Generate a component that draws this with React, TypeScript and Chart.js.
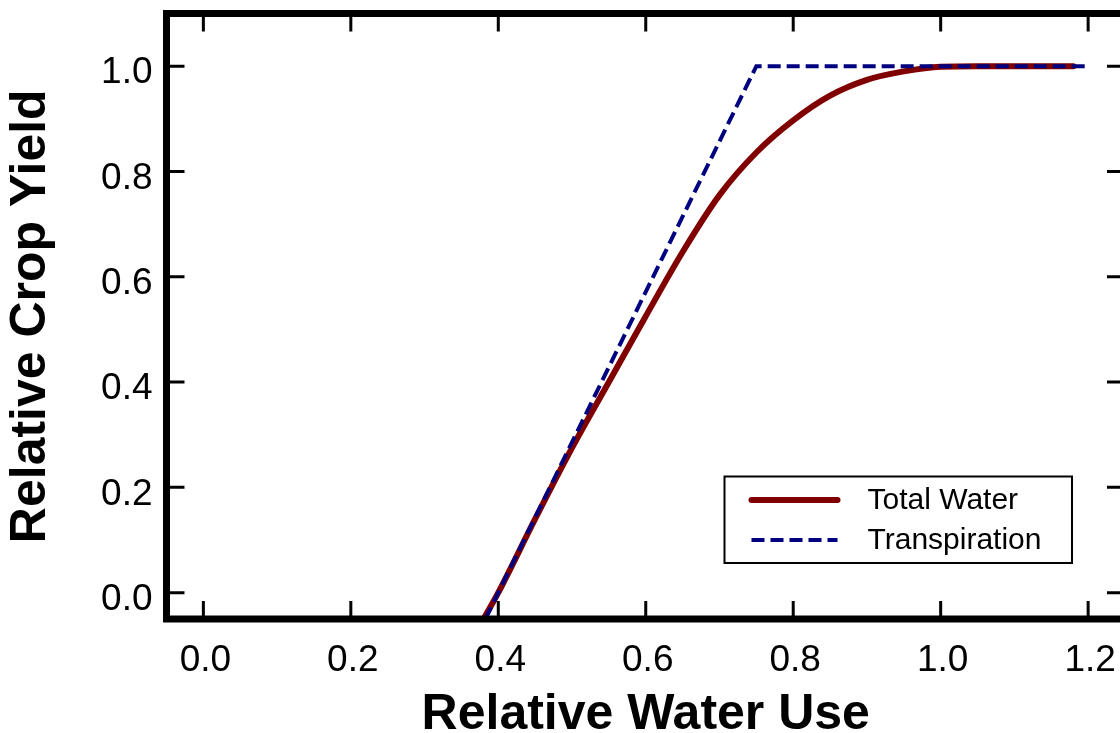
import React, { useEffect, useRef } from "react";
import { Chart, registerables } from "chart.js";

Chart.register(...registerables);

// ---- data ----
const TOTAL_WATER_X = [0.38, 0.4, 0.45, 0.5, 0.55, 0.6, 0.65, 0.7, 0.75, 0.8, 0.85, 0.9, 0.95, 1.0, 1.05, 1.1, 1.15, 1.18];
const TOTAL_WATER_Y = [-0.05, 0.0, 0.14, 0.275, 0.4, 0.525, 0.647, 0.755, 0.836, 0.897, 0.944, 0.974, 0.99, 0.999, 1.0, 1.0, 1.0, 1.0];
const TRANSPIRATION_X = [0.3825, 0.75, 1.2];
const TRANSPIRATION_Y = [-0.05, 1.0, 1.0];
const X_TICKS = [0, 0.2, 0.4, 0.6, 0.8, 1.0, 1.2];
const Y_TICKS = [0, 0.2, 0.4, 0.6, 0.8, 1.0];
const SERIES_LABELS = ["Total Water", "Transpiration"];
const X_TITLE = "Relative Water Use";
const Y_TITLE = "Relative Crop Yield";

const FONT = "'Liberation Sans', Arial, Helvetica, sans-serif";

const framePlugin = {
  id: "frameAndLegend",
  afterDatasetsDraw(chart: any) {
    const { ctx, chartArea: a, scales } = chart;
    ctx.save();
    // frame
    ctx.strokeStyle = "#000";
    ctx.lineWidth = 7;
    ctx.lineJoin = "miter";
    ctx.strokeRect(a.left, a.top, a.right - a.left, a.bottom - a.top);
    // inward ticks on all four sides
    const L = 18;
    ctx.lineWidth = 3;
    ctx.beginPath();
    for (const v of X_TICKS) {
      const px = scales.x.getPixelForValue(v);
      ctx.moveTo(px, a.bottom);
      ctx.lineTo(px, a.bottom - L);
      ctx.moveTo(px, a.top);
      ctx.lineTo(px, a.top + L);
    }
    for (const v of Y_TICKS) {
      const py = scales.y.getPixelForValue(v);
      ctx.moveTo(a.left, py);
      ctx.lineTo(a.left + L, py);
      ctx.moveTo(a.right, py);
      ctx.lineTo(a.right - L, py);
    }
    ctx.stroke();

    // legend box
    const bw = 347.5;
    const bh = 86.5;
    const bx = a.right - 53 - bw;
    const by = a.bottom - 56 - bh;
    ctx.fillStyle = "#fff";
    ctx.fillRect(bx, by, bw, bh);
    ctx.lineWidth = 2;
    ctx.strokeRect(bx, by, bw, bh);
    const rows = [by + 23.5, by + 63.5];
    chart.data.datasets.forEach((ds: any, i: number) => {
      const y = rows[i];
      ctx.save();
      ctx.strokeStyle = ds.borderColor;
      ctx.lineWidth = ds.borderWidth;
      ctx.lineCap = ds.borderDash && ds.borderDash.length ? "butt" : "round";
      ctx.setLineDash(ds.borderDash || []);
      ctx.beginPath();
      ctx.moveTo(bx + 27, y);
      ctx.lineTo(bx + 113, y);
      ctx.stroke();
      ctx.restore();
      ctx.fillStyle = "#000";
      ctx.font = `30px ${FONT}`;
      ctx.textAlign = "left";
      ctx.textBaseline = "middle";
      ctx.fillText(ds.label, bx + 143, y + 1);
    });
    ctx.restore();
  },
};

export default function App() {
  const ref = useRef<HTMLCanvasElement>(null);

  useEffect(() => {
    const totalWater = TOTAL_WATER_X.map((x, i) => ({ x, y: TOTAL_WATER_Y[i] }));
    const transpiration = TRANSPIRATION_X.map((x, i) => ({ x, y: TRANSPIRATION_Y[i] }));

    const chart = new Chart(ref.current as HTMLCanvasElement, {
      type: "line",
      data: {
        datasets: [
          {
            label: SERIES_LABELS[0],
            data: totalWater,
            borderColor: "#800000",
            backgroundColor: "#800000",
            borderWidth: 6,
            pointRadius: 0,
            cubicInterpolationMode: "monotone",
            borderCapStyle: "round",
            borderJoinStyle: "round",
            fill: false,
            order: 1,
          },
          {
            label: SERIES_LABELS[1],
            data: transpiration,
            borderColor: "#000080",
            backgroundColor: "#000080",
            borderWidth: 4,
            borderDash: [13, 6],
            pointRadius: 0,
            tension: 0,
            fill: false,
            order: 0,
          },
        ],
      },
      options: {
        responsive: false,
        devicePixelRatio: 1,
        animation: false,
        layout: { padding: { top: 13.5, right: 15, left: 0, bottom: 0 } },
        plugins: {
          legend: { display: false },
          tooltip: { enabled: false },
        },
        scales: {
          x: {
            type: "linear",
            position: "bottom",
            min: -0.05,
            max: 1.25,
            afterBuildTicks: (s: any) => {
              s.ticks = X_TICKS.map((v) => ({ value: v }));
            },
            afterFit: (s: any) => {
              s.height = 114;
              s.paddingLeft = 0;
              s.paddingRight = 0;
            },
            grid: { display: false, drawTicks: false },
            border: { display: false },
            ticks: {
              color: "#000",
              font: { family: FONT, size: 37 },
              padding: 20,
              labelOffset: 2,
              maxRotation: 0,
              autoSkip: false,
              callback: (v: any) => Number(v).toFixed(1),
            },
            title: {
              display: true,
              text: X_TITLE,
              color: "#000",
              font: { family: FONT, size: 50, weight: "bold", lineHeight: "36px" },
              padding: 0,
            },
          },
          y: {
            type: "linear",
            position: "left",
            min: -0.05,
            max: 1.1,
            afterBuildTicks: (s: any) => {
              s.ticks = Y_TICKS.map((v) => ({ value: v }));
            },
            afterFit: (s: any) => {
              s.width = 166.5;
              s.paddingTop = 0;
              s.paddingBottom = 0;
            },
            grid: { display: false, drawTicks: false },
            border: { display: false },
            ticks: {
              color: "#000",
              font: { family: FONT, size: 37 },
              padding: 14,
              labelOffset: 7,
              autoSkip: false,
              callback: (v: any) => Number(v).toFixed(1),
            },
            title: {
              display: true,
              text: Y_TITLE,
              color: "#000",
              font: { family: FONT, size: 50, weight: "bold", lineHeight: "62px" },
              padding: 0,
            },
          },
        },
      },
      plugins: [framePlugin],
    } as any);

    return () => chart.destroy();
  }, []);

  return (
    <div
      style={{
        position: "fixed",
        left: 0,
        top: 0,
        width: 1120,
        height: 733,
        overflow: "hidden",
        background: "#fff",
      }}
    >
      <canvas ref={ref} width={1140} height={733} style={{ display: "block", width: 1140, height: 733 }} />
    </div>
  );
}
